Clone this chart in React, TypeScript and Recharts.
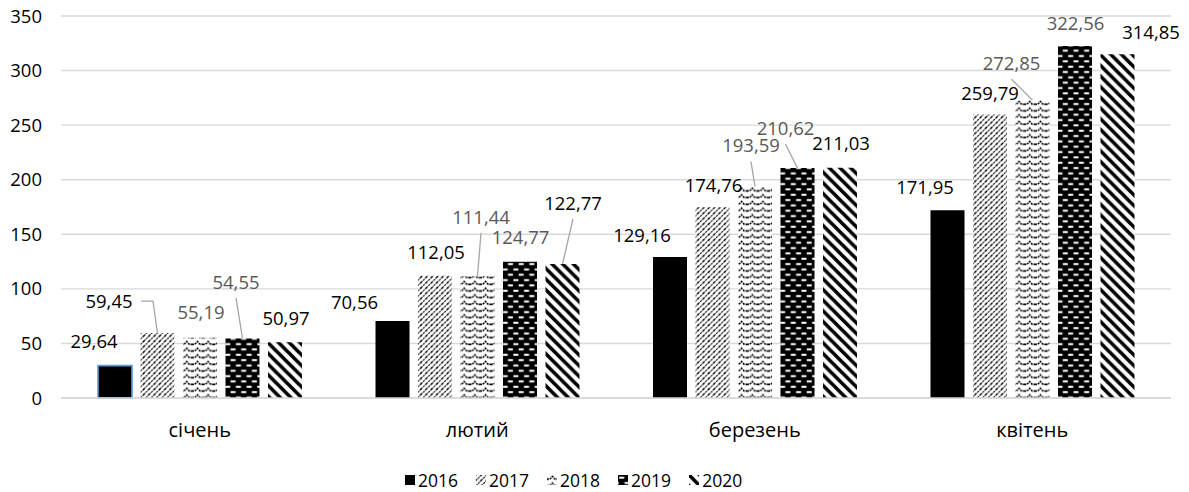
import React from 'react';
import { BarChart, Bar, XAxis, YAxis, CartesianGrid, LabelList, Cell } from 'recharts';

const months = ['січень', 'лютий', 'березень', 'квітень'];
const years = ['2016', '2017', '2018', '2019', '2020'];
const v2016 = [29.64, 70.56, 129.16, 171.95];
const v2017 = [59.45, 112.05, 174.76, 259.79];
const v2018 = [55.19, 111.44, 193.59, 272.85];
const v2019 = [54.55, 124.77, 210.62, 322.56];
const v2020 = [50.97, 122.77, 211.03, 314.85];
const yTicks = [0, 50, 100, 150, 200, 250, 300, 350];

const seriesValues = [v2016, v2017, v2018, v2019, v2020];
const data = months.map((m, i) => {
  const row: Record<string, any> = { month: m };
  years.forEach((y, s) => {
    row['y' + y] = seriesValues[s][i];
  });
  return row;
});

const FONT = '"Open Sans", "Noto Sans", sans-serif';
const fills = ['#000000', 'url(#p2017)', 'url(#p2018)', 'url(#p2019)', 'url(#p2020)'];
const labelColors = ['#000000', '#000000', '#595959', '#595959', '#000000'];

// label placement (manually dragged labels in the source): [dx, dy, leader] relative to bar top centre
// leader: 0 none, 1 straight line, 2 elbow line
const LABEL_LAYOUT: number[][][] = [
  [[-21, -24, 0], [-38, -19, 0], [-28, -22, 0], [-22.5, -23, 0]],
  [[-48.5, -32, 2], [1, -23, 0], [1, -22, 0], [0, -21.5, 0]],
  [[1, -25, 0], [3.5, -59.5, 1], [-4, -41, 1], [-21, -37, 1]],
  [[-6.5, -56.5, 1], [0.5, -24, 0], [-12, -40, 1], [0.5, -23, 0]],
  [[1, -24.5, 0], [10.5, -61, 1], [1, -24.5, 0], [33.5, -22.5, 0]],
];

const fmt = (v: number) => Number(v).toFixed(2).replace('.', ',');

const makeLabel = (s: number) => (props: any) => {
  const vb = props.viewBox || {};
  const x = props.x ?? vb.x;
  const y = props.y ?? vb.y;
  const width = props.width ?? vb.width;
  const index = props.index ?? 0;
  const value = props.value;
  if (x == null || y == null) return null;
  const [dx, dy, leader] = LABEL_LAYOUT[s][index] || [0, -22, 0];
  const bx = x + width / 2;
  const by = y;
  const lx = bx + dx;
  const ly = by + dy;
  let line: React.ReactNode = null;
  if (leader === 1) {
    line = <line x1={lx} y1={ly + 16} x2={bx} y2={by} stroke="#a6a6a6" strokeWidth={1.3} />;
  } else if (leader === 2) {
    line = (
      <polyline
        points={`${lx + 32},${ly} ${lx + 44},${ly} ${bx},${by}`}
        fill="none"
        stroke="#a6a6a6"
        strokeWidth={1.3}
      />
    );
  }
  return (
    <g>
      {line}
      <text
        x={lx}
        y={ly}
        dy="0.36em"
        textAnchor="middle"
        fontSize={18.5}
        fontFamily={FONT}
        fill={labelColors[s]}
      >
        {fmt(value)}
      </text>
    </g>
  );
};

const XTick = (props: any) => {
  const { x, y, payload } = props;
  return (
    <text x={x} y={y + 32} dy="0.36em" textAnchor="middle" fontSize={20} fontFamily={FONT} fill="#000">
      {payload.value}
    </text>
  );
};

const PatternDefs = () => (
  <svg width={0} height={0} style={{ position: 'absolute' }}>
    <defs>
      <pattern id="p2017" patternUnits="userSpaceOnUse" width={5.33} height={5.33}>
        <rect width={5.33} height={5.33} fill="#fff" />
        <path
          d="M-1,1.33 L1.33,-1 M0,5.33 L5.33,0 M4,6.33 L6.33,4"
          stroke="#000"
          strokeWidth={1.1}
          strokeDasharray="2 0.8"
        />
      </pattern>
      <pattern id="p2018" patternUnits="userSpaceOnUse" width={10.67} height={6.67}>
        <rect width={10.67} height={6.67} fill="#fff" />
        <path
          d="M0,4.2 L2.7,4.2 L5.3,1.4 L8,4.2 L10.67,4.2"
          fill="none"
          stroke="#000"
          strokeWidth={1.6}
          strokeDasharray="2 0.9"
        />
      </pattern>
      <pattern id="p2019" patternUnits="userSpaceOnUse" width={10.67} height={10.67}>
        <rect width={10.67} height={10.67} fill="#000" />
        <rect x={1.2} y={1.7} width={5} height={2} fill="#fff" />
        <rect x={6.5} y={7} width={5} height={2} fill="#fff" />
        <rect x={-4.2} y={7} width={5} height={2} fill="#fff" />
      </pattern>
      <pattern id="p2020" patternUnits="userSpaceOnUse" width={10.67} height={10.67}>
        <rect width={10.67} height={10.67} fill="#fff" />
        <path
          d="M-2,-2 L12.67,12.67 M-6,4.67 L6,16.67 M4.67,-6 L16.67,6"
          stroke="#000"
          strokeWidth={3.6}
        />
      </pattern>
    </defs>
  </svg>
);

const LegendBox = () => (
  <div
    style={{
      position: 'absolute',
      left: 405,
      top: 468,
      height: 24,
      display: 'flex',
      alignItems: 'center',
      gap: 18,
      fontFamily: FONT,
      fontSize: 17.5,
      color: '#000',
    }}
  >
    {years.map((y, s) => (
      <div key={y} style={{ display: 'flex', alignItems: 'center', gap: 3 }}>
        <svg width={10} height={10}>
          <rect width={10} height={10} fill={fills[s]} />
        </svg>
        <span>{y}</span>
      </div>
    ))}
  </div>
);

export default function App() {
  return (
    <div
      style={{
        position: 'absolute',
        left: 0,
        top: 0,
        width: 1189,
        height: 492,
        background: '#fff',
        fontFamily: FONT,
      }}
    >
      <PatternDefs />
      <BarChart
        width={1189}
        height={492}
        data={data}
        margin={{ top: 16, right: 18, left: 0, bottom: 0 }}
        barSize={34}
        barGap={8.5}
      >
        <CartesianGrid vertical={false} stroke="#d9d9d9" strokeWidth={1.4} />
        <XAxis
          dataKey="month"
          height={94}
          tickLine={false}
          tickSize={0}
          tickMargin={0}
          axisLine={{ stroke: '#d9d9d9', strokeWidth: 1.4 }}
          tick={<XTick />}
          interval={0}
        />
        <YAxis
          width={61}
          domain={[0, 350]}
          ticks={yTicks}
          axisLine={false}
          tickLine={false}
          tickSize={0}
          tickMargin={19}
          tick={{ fontSize: 18.5, fill: '#000', fontFamily: FONT }}
          interval={0}
        />
        {years.map((y, s) => (
          <Bar key={y} dataKey={'y' + y} fill={fills[s]} isAnimationActive={false}>
            {s === 0 &&
              months.map((m, i) => (
                <Cell
                  key={m}
                  fill={fills[0]}
                  stroke={i === 0 ? '#5b9bd5' : 'none'}
                  strokeWidth={i === 0 ? 1.6 : 0}
                />
              ))}
            <LabelList dataKey={'y' + y} content={makeLabel(s)} />
          </Bar>
        ))}
      </BarChart>
      <LegendBox />
    </div>
  );
}
